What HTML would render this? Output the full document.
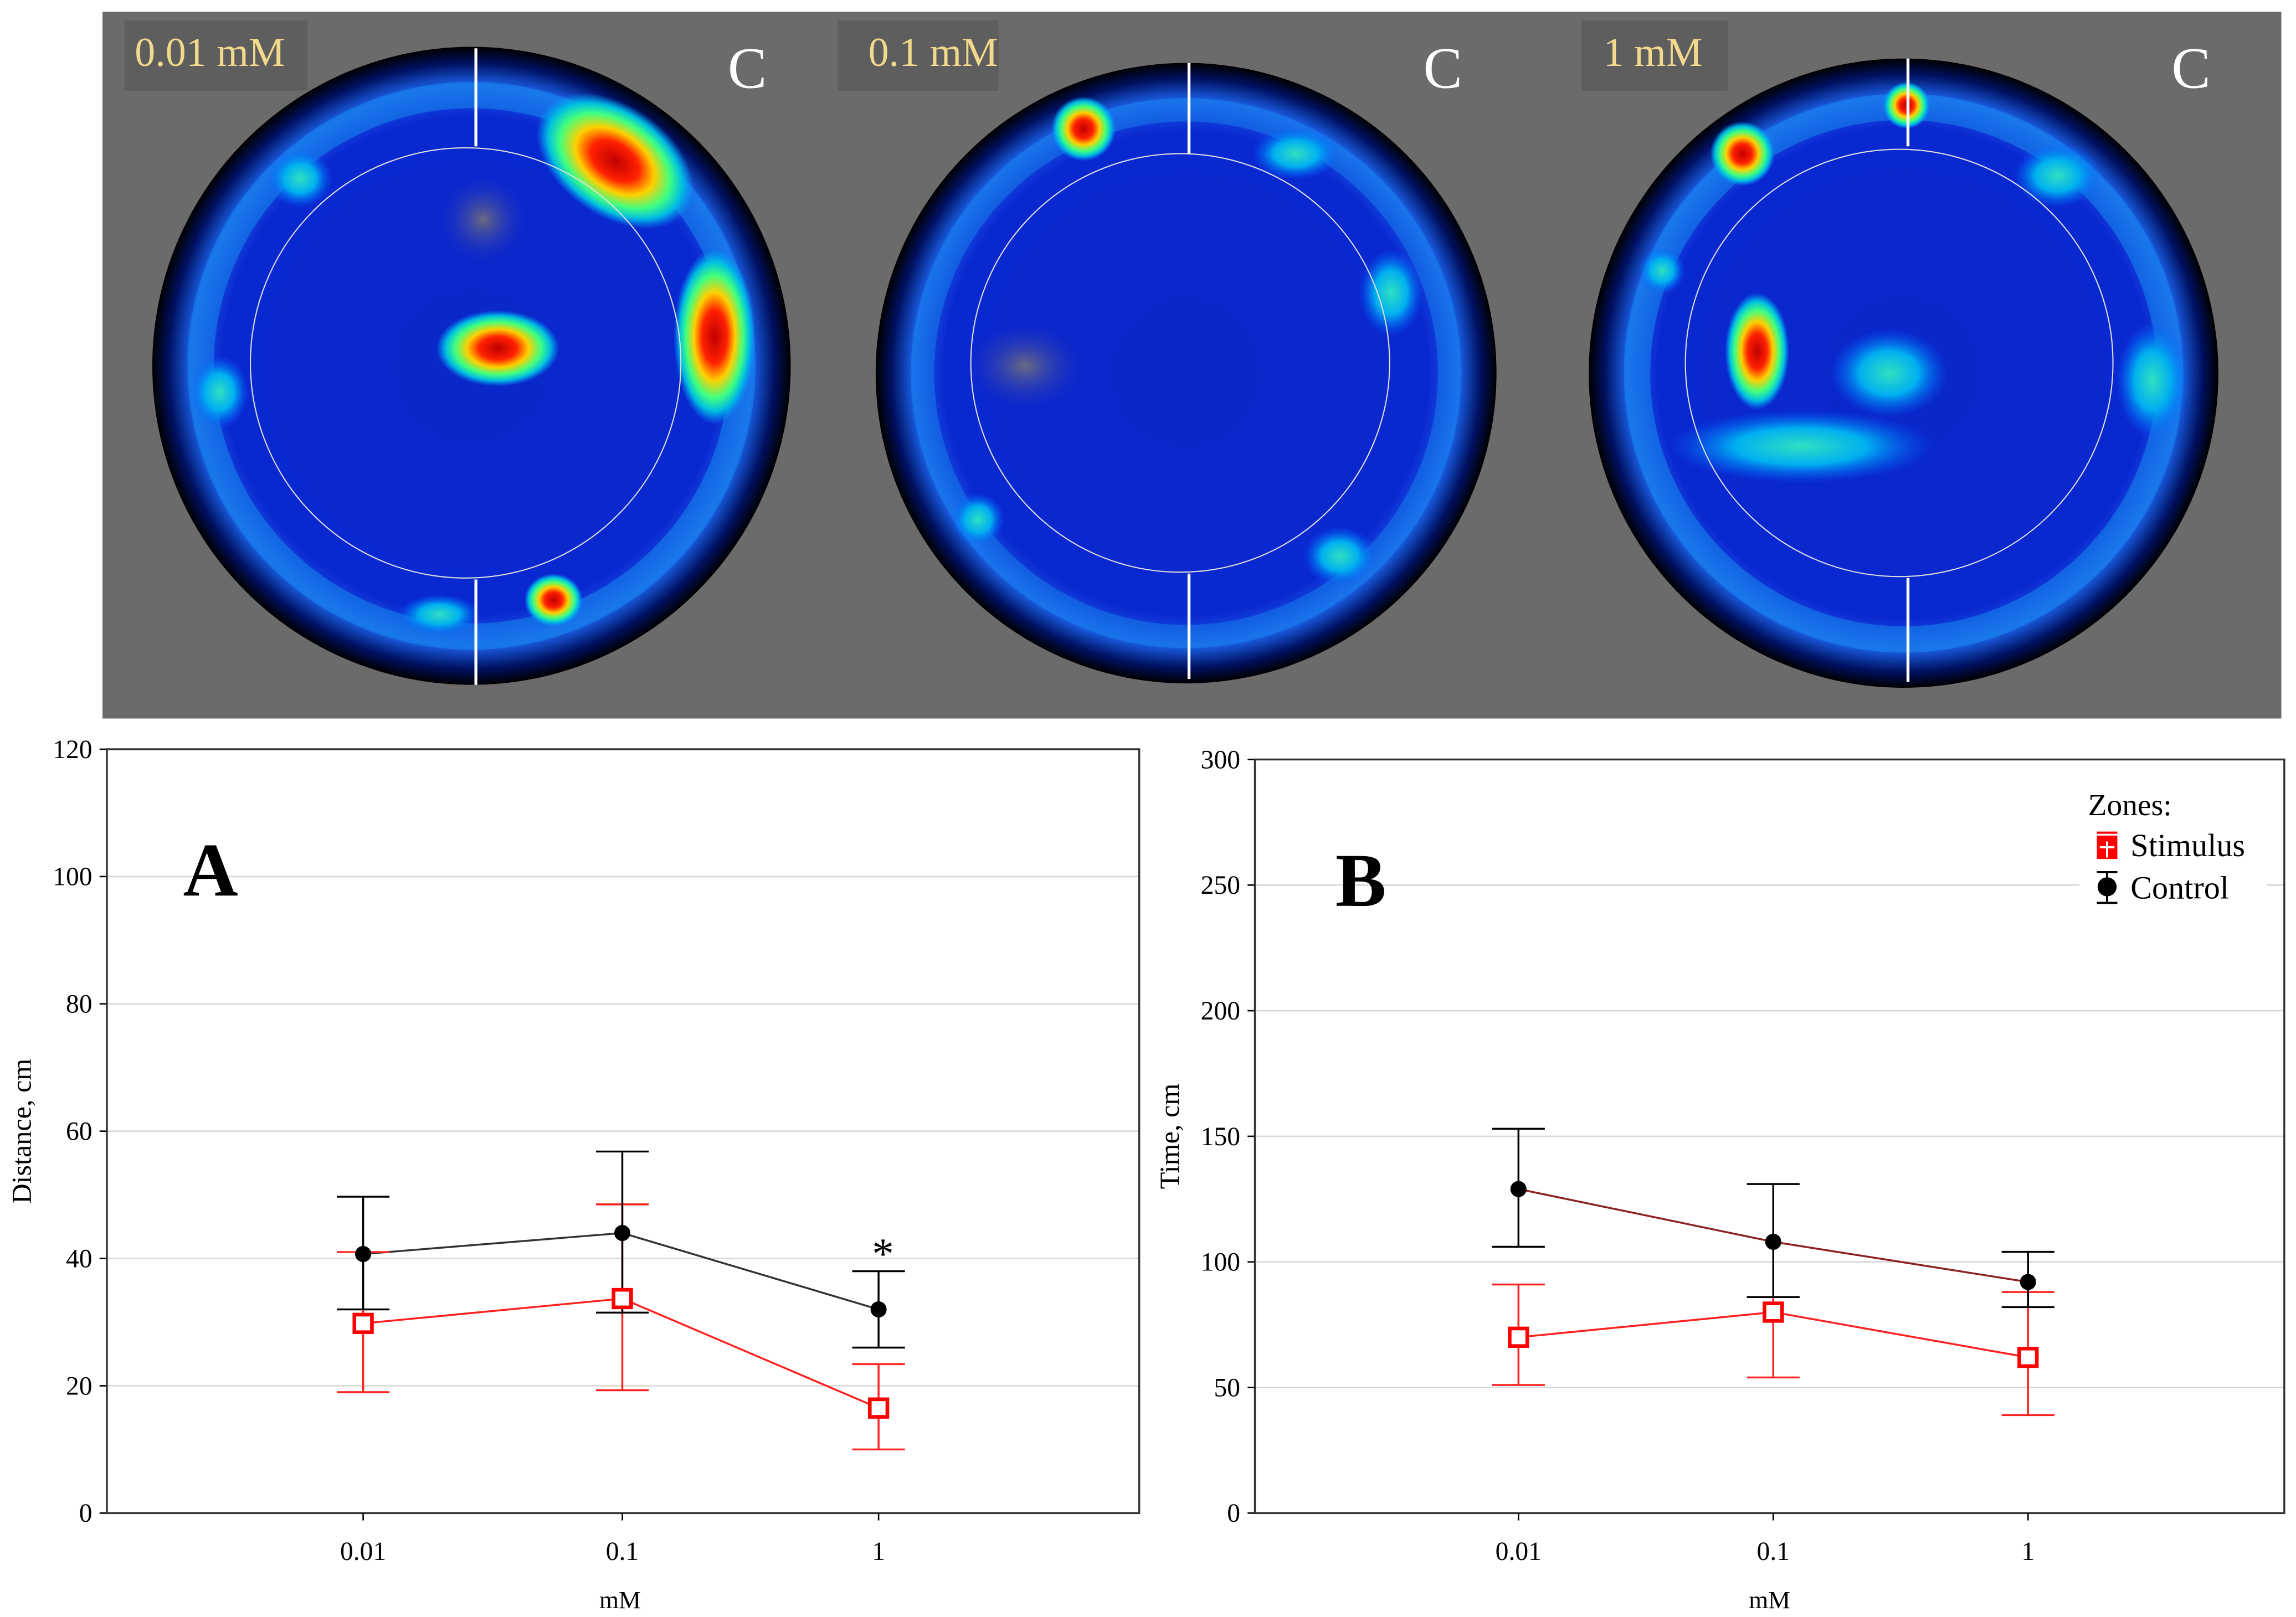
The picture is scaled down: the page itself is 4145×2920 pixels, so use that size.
<!DOCTYPE html>
<html><head><meta charset="utf-8"><style>
html,body{margin:0;padding:0;background:#fff;}
svg{display:block;font-family:"Liberation Serif",serif;}
</style></head><body>
<svg id="fig" width="4145" height="2920" viewBox="0 0 1568 1105" preserveAspectRatio="none" xmlns="http://www.w3.org/2000/svg">
<defs>
<radialGradient id="arena" cx="50%" cy="50%" r="50%">
<stop offset="0" stop-color="#0a28c8"/><stop offset="0.78" stop-color="#0a28d0"/><stop offset="0.88" stop-color="#1a60e8"/><stop offset="0.95" stop-color="#001060"/><stop offset="1" stop-color="#000"/>
</radialGradient>
<radialGradient id="hot" cx="50%" cy="50%" r="50%">
<stop offset="0" stop-color="#c00000"/><stop offset="0.3" stop-color="#ff2000"/><stop offset="0.5" stop-color="#ffd000"/><stop offset="0.7" stop-color="#40ff80"/><stop offset="0.85" stop-color="#00c0e0"/><stop offset="1" stop-color="#00a0ff" stop-opacity="0"/>
</radialGradient>
<radialGradient id="cyan" cx="50%" cy="50%" r="50%">
<stop offset="0" stop-color="#30e0c0"/><stop offset="0.5" stop-color="#00b0f0"/><stop offset="1" stop-color="#0060ff" stop-opacity="0"/>
</radialGradient>
<radialGradient id="grey" cx="50%" cy="50%" r="50%">
<stop offset="0" stop-color="#6a6a80"/><stop offset="1" stop-color="#2030c0" stop-opacity="0"/>
</radialGradient>
</defs>

<g>
<rect x="70" y="8" width="1488" height="483" fill="#6b6b6b"/>
<g>
<circle cx="322" cy="250" r="218" fill="url(#arena)"/>
<circle cx="322" cy="250" r="185" fill="none" stroke="#1890f0" stroke-width="18" opacity="0.5"/>
<ellipse cx="420" cy="110" rx="60" ry="38" fill="url(#hot)" transform="rotate(35 420 110)"/>
<ellipse cx="488" cy="230" rx="28" ry="60" fill="url(#hot)"/>
<ellipse cx="340" cy="238" rx="42" ry="26" fill="url(#hot)"/>
<ellipse cx="378" cy="410" rx="20" ry="18" fill="url(#hot)"/>
<ellipse cx="205" cy="122" rx="22" ry="20" fill="url(#cyan)"/>
<ellipse cx="150" cy="268" rx="20" ry="25" fill="url(#cyan)"/>
<ellipse cx="300" cy="420" rx="28" ry="14" fill="url(#cyan)"/>
<ellipse cx="330" cy="150" rx="30" ry="30" fill="url(#grey)"/>
<circle cx="318" cy="248" r="147" fill="none" stroke="#ddd" stroke-width="0.8"/>
<line x1="325" y1="33" x2="325" y2="100" stroke="#fff" stroke-width="2"/>
<line x1="325" y1="396" x2="325" y2="468" stroke="#fff" stroke-width="2"/>
</g>
<g>
<circle cx="810" cy="255" r="212" fill="url(#arena)"/>
<circle cx="810" cy="255" r="180" fill="none" stroke="#1890f0" stroke-width="16" opacity="0.4"/>
<circle cx="740" cy="88" r="22" fill="url(#hot)"/>
<ellipse cx="885" cy="105" rx="30" ry="18" fill="url(#cyan)"/>
<ellipse cx="950" cy="200" rx="22" ry="30" fill="url(#cyan)"/>
<ellipse cx="668" cy="355" rx="18" ry="18" fill="url(#cyan)"/>
<ellipse cx="915" cy="380" rx="25" ry="20" fill="url(#cyan)"/>
<ellipse cx="700" cy="250" rx="40" ry="30" fill="url(#grey)"/>
<circle cx="806" cy="248" r="143" fill="none" stroke="#ddd" stroke-width="0.8"/>
<line x1="812" y1="43" x2="812" y2="105" stroke="#fff" stroke-width="2"/>
<line x1="812" y1="392" x2="812" y2="464" stroke="#fff" stroke-width="2"/>
</g>
<g>
<circle cx="1300" cy="255" r="215" fill="url(#arena)"/>
<circle cx="1300" cy="255" r="182" fill="none" stroke="#1890f0" stroke-width="18" opacity="0.5"/>
<circle cx="1190" cy="105" r="22" fill="url(#hot)"/>
<circle cx="1302" cy="72" r="16" fill="url(#hot)"/>
<ellipse cx="1200" cy="240" rx="22" ry="40" fill="url(#hot)"/>
<ellipse cx="1405" cy="120" rx="30" ry="22" fill="url(#cyan)"/>
<ellipse cx="1290" cy="255" rx="40" ry="30" fill="url(#cyan)"/>
<ellipse cx="1230" cy="305" rx="90" ry="25" fill="url(#cyan)"/>
<ellipse cx="1470" cy="260" rx="25" ry="40" fill="url(#cyan)"/>
<ellipse cx="1135" cy="185" rx="16" ry="16" fill="url(#cyan)"/>
<circle cx="1297" cy="248" r="146" fill="none" stroke="#ddd" stroke-width="0.8"/>
<line x1="1303" y1="40" x2="1303" y2="100" stroke="#fff" stroke-width="2"/>
<line x1="1303" y1="395" x2="1303" y2="466" stroke="#fff" stroke-width="2"/>
</g>
<rect x="85" y="14" width="125" height="48" fill="#555" opacity="0.6"/>
<rect x="572" y="14" width="110" height="48" fill="#555" opacity="0.6"/>
<rect x="1080" y="14" width="100" height="48" fill="#555" opacity="0.6"/>
<text x="92" y="45" font-size="28" fill="#f3d98c">0.01 mM</text>
<text x="593" y="45" font-size="28" fill="#f3d98c">0.1 mM</text>
<text x="1095" y="45" font-size="28" fill="#f3d98c">1 mM</text>
<text x="497" y="60" font-size="40" fill="#fff">C</text>
<text x="972" y="60" font-size="40" fill="#fff">C</text>
<text x="1483" y="60" font-size="40" fill="#fff">C</text>
</g>

<g id="chartA"></g>
<g id="chartB"></g>
</svg>
<script>
const categories = ["0.01","0.1","1"];
const aControl = [40.7, 44.0, 32.0];
const aControlLo = [32.0, 31.5, 26.0];
const aControlHi = [49.7, 56.8, 38.0];
const aStim = [29.8, 33.7, 16.5];
const aStimLo = [19.0, 19.3, 10.0];
const aStimHi = [41.0, 48.5, 23.4];
const aTicks = [0,20,40,60,80,100,120];
const bControl = [129, 108, 92];
const bControlLo = [106, 86, 82];
const bControlHi = [153, 131, 104];
const bStim = [70, 80, 62];
const bStimLo = [51, 54, 39];
const bStimHi = [91, 86, 88];
const bTicks = [0,50,100,150,200,250,300];

const NS="http://www.w3.org/2000/svg";
function mk(parent,tag,attrs,text){const e=document.createElementNS(NS,tag);for(const k in attrs)e.setAttribute(k,attrs[k]);if(text!==undefined)e.textContent=text;parent.appendChild(e);return e;}

function drawChart(g,cfg){
  const {x0,x1,y0,y1,ymax,ticks,xs,ctrl,ctrlLo,ctrlHi,stim,stimLo,stimHi,ylab,ctrlLine,letter,lx}=cfg;
  const Y=v=>y0-(v/ymax)*(y0-y1);
  const X=i=>xs[i];
  ticks.forEach(t=>{
    if(t>0&&t<ymax){const gl=mk(g,'line',{x1:x0,x2:x1,y1:Y(t),y2:Y(t),stroke:'#d8d8d8','stroke-width':1});
    
    }
    mk(g,'line',{x1:x0-5,x2:x0,y1:Y(t),y2:Y(t),stroke:'#000','stroke-width':1});
    const tl=mk(g,'text',{x:x0-10,y:Y(t)+6,'font-size':18,'text-anchor':'end'},String(t));
    
    
  });
  const box=mk(g,'rect',{x:x0,y:y1,width:x1-x0,height:y0-y1,fill:'none',stroke:'#333','stroke-width':1.3});
  
  
  categories.forEach((c,i)=>{
    mk(g,'line',{x1:X(i),x2:X(i),y1:y0,y2:y0+5,stroke:'#000'});
    const xl=mk(g,'text',{x:X(i),y:y0+32,'font-size':18,'text-anchor':'middle'},c);
    
    
  });
  const xt=mk(g,'text',{x:(x0+x1)/2+ (cfg.xtOff||0),y:y0+65,'font-size':17,'text-anchor':'middle'},'mM');
  
  
  const yt=mk(g,'text',{x:0,y:0,'font-size':19,'text-anchor':'middle',transform:`translate(${x0-52},${(y0+y1)/2}) rotate(-90)`},ylab);
  
  
  const L=mk(g,'text',{x:lx,y:y1+100,'font-size':52,'font-weight':'bold'},letter);
  
  
  const sl=mk(g,'polyline',{points:stim.map((v,i)=>X(i)+','+Y(v)).join(' '),fill:'none',stroke:'#ff2020','stroke-width':1.3});
  
  
  const cl=mk(g,'polyline',{points:ctrl.map((v,i)=>X(i)+','+Y(v)).join(' '),fill:'none',stroke:ctrlLine,'stroke-width':1.3});
  
  
  function err(i,lo,hi,col,name){
    const eg=mk(g,'g',{stroke:col,'stroke-width':1.3});
    
    
    mk(eg,'line',{x1:X(i),x2:X(i),y1:Y(lo),y2:Y(hi)});
    mk(eg,'line',{x1:X(i)-18,x2:X(i)+18,y1:Y(lo),y2:Y(lo)});
    mk(eg,'line',{x1:X(i)-18,x2:X(i)+18,y1:Y(hi),y2:Y(hi)});
  }
  categories.forEach((c,i)=>{
    err(i,stimLo[i],stimHi[i],'#ff2020','stimulus-errorbar');
    err(i,ctrlLo[i],ctrlHi[i],'#000','control-errorbar');
    const sq=mk(g,'rect',{x:X(i)-6,y:Y(stim[i])-6,width:12,height:12,fill:'#fff',stroke:'#ff0000','stroke-width':2.5});
    
    
    const cc=mk(g,'circle',{cx:X(i),cy:Y(ctrl[i]),r:5.5,fill:'#000'});
    
    
  });
  return Y;
}
const gA=document.getElementById('chartA');
const YA=drawChart(gA,{x0:73,x1:778,y0:1034,y1:512,ymax:120,ticks:aTicks,xs:[248,425,600],ctrl:aControl,ctrlLo:aControlLo,ctrlHi:aControlHi,stim:aStim,stimLo:aStimLo,stimHi:aStimHi,ylab:'Distance, cm',ctrlLine:'#333',letter:'A',lx:125,xtOff:-2});
const ast=mk(gA,'text',{x:603,y:YA(aControlHi[2])-2,'font-size':30,'text-anchor':'middle'},'*');


const gB=document.getElementById('chartB');
drawChart(gB,{x0:857,x1:1560,y0:1034,y1:519,ymax:300,ticks:bTicks,xs:[1037,1211,1385],ctrl:bControl,ctrlLo:bControlLo,ctrlHi:bControlHi,stim:bStim,stimLo:bStimLo,stimHi:bStimHi,ylab:'Time, cm',ctrlLine:'#8b2020',letter:'B',lx:912,xtOff:0});
const lg=mk(gB,'g',{});


mk(lg,'rect',{x:1420,y:532,width:128,height:92,fill:'#fff'});
mk(lg,'text',{x:1426,y:557,'font-size':21},'Zones:');
const le1=mk(lg,'g',{});


mk(le1,'line',{x1:1432,x2:1446,y1:569,y2:569,stroke:'#ff0000','stroke-width':1.5});
mk(le1,'rect',{x:1432,y:571,width:14,height:16,fill:'#ff0000'});
mk(le1,'line',{x1:1439,x2:1439,y1:575,y2:586,stroke:'#fff','stroke-width':1.5});
mk(le1,'line',{x1:1434,x2:1444,y1:579,y2:579,stroke:'#fff','stroke-width':1.5});
mk(le1,'text',{x:1455,y:585,'font-size':22},'Stimulus');
const le2=mk(lg,'g',{});


mk(le2,'line',{x1:1439,x2:1439,y1:596,y2:617,stroke:'#000','stroke-width':1.5});
mk(le2,'line',{x1:1432,x2:1446,y1:596,y2:596,stroke:'#000','stroke-width':1.5});
mk(le2,'line',{x1:1432,x2:1446,y1:617,y2:617,stroke:'#000','stroke-width':1.5});
mk(le2,'circle',{cx:1439,cy:606,r:6.5,fill:'#000'});
mk(le2,'text',{x:1455,y:614,'font-size':22},'Control');
</script>
</body></html>
